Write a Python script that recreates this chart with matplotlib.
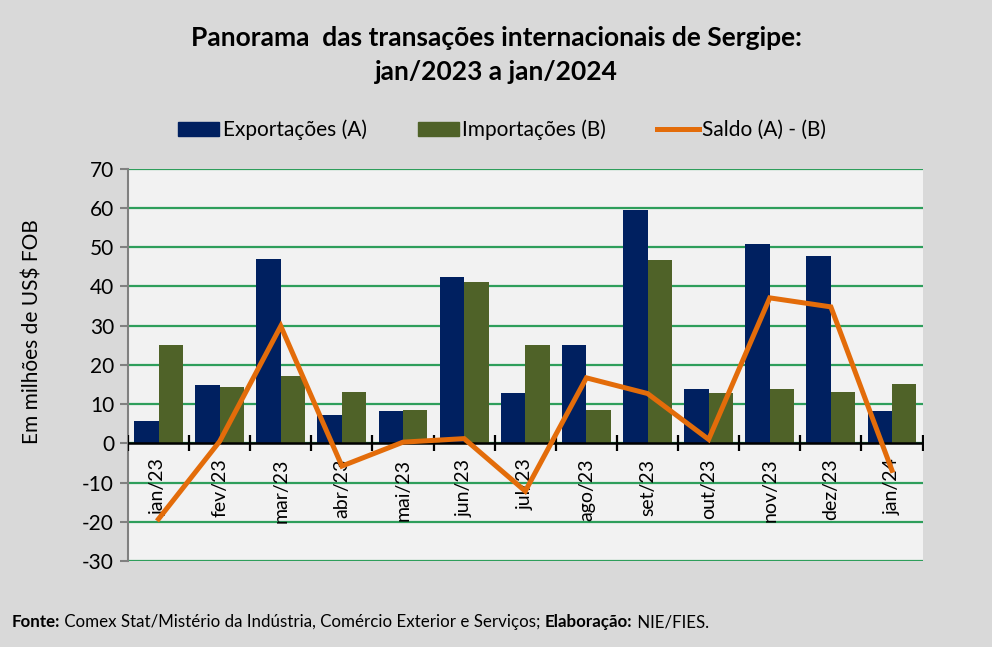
import matplotlib
matplotlib.use("Agg")
import matplotlib.pyplot as plt
import numpy as np
from matplotlib.patches import Patch
from matplotlib.lines import Line2D

plt.rcParams["font.family"] = ["Lato", "DejaVu Sans"]
plt.rcParams["axes.unicode_minus"] = False

# ── dados ─────────────────────────────────────────
meses = ["jan/23", "fev/23", "mar/23", "abr/23", "mai/23", "jun/23", "jul/23",
         "ago/23", "set/23", "out/23", "nov/23", "dez/23", "jan/24"]
exportacoes = [5.7, 14.8, 47.1, 7.2, 8.2, 42.3, 12.8, 25.2, 59.5, 13.8, 50.9, 47.8, 8.2]
importacoes = [25.0, 14.3, 17.1, 13.0, 8.5, 41.2, 25.0, 8.5, 46.8, 12.8, 13.8, 13.0, 15.1]
saldo = [-19.3, 0.5, 29.9, -5.8, 0.3, 1.2, -12.2, 16.7, 12.7, 1.0, 37.1, 34.8, -6.9]

C_EXP = "#002060"
C_IMP = "#4F6228"
C_SAL = "#E36C0A"
C_GRID = "#2E9E5B"
BG = "#D9D9D9"
PLOT_BG = "#F2F2F2"

fig = plt.figure(figsize=(9.92, 6.47), dpi=100)
fig.patch.set_facecolor(BG)
ax = fig.add_axes([0.129, 0.133, 0.801, 0.606])
ax.set_facecolor(PLOT_BG)

x = np.arange(len(meses))
w = 0.4
ax.bar(x - w / 2, exportacoes, w, color=C_EXP, zorder=3)
ax.bar(x + w / 2, importacoes, w, color=C_IMP, zorder=3)
ax.plot(x, saldo, color=C_SAL, lw=3.6, zorder=6, solid_joinstyle="miter")

ax.set_xlim(-0.5, len(meses) - 0.5)
ax.set_ylim(-30, 70)
ax.set_yticks(np.arange(-30, 71, 10))
ax.yaxis.grid(True, color=C_GRID, lw=1.6, zorder=1)
ax.set_axisbelow(True)

for s in ["top", "right", "bottom"]:
    ax.spines[s].set_visible(False)
ax.spines["left"].set_color("#808080")
ax.spines["left"].set_linewidth(1.5)
ax.tick_params(axis="y", colors="#808080", length=6, width=1.5, labelsize=15,
               labelcolor="black", pad=4)
ax.set_xticks([])

# linha do zero com marcas
ax.axhline(0, color="black", lw=1.8, zorder=4)
bounds = np.arange(-0.5, len(meses), 1.0)
ax.plot(bounds, np.zeros_like(bounds), ls="none", marker="|", markersize=12,
        markeredgewidth=1.6, color="black", zorder=4)

# rótulos dos meses dentro da área
for i, m in enumerate(meses):
    ax.annotate(m, (i, 0), xytext=(0, -11), textcoords="offset points",
                rotation=90, ha="center", va="top", fontsize=14, zorder=5)

ax.set_ylabel("Em milhões de US$ FOB", fontsize=15)
ax.yaxis.set_label_coords(-0.107, 0.584)

# título
fig.text(0.500, 0.942, "Panorama  das transações internacionais de Sergipe:",
         ha="center", va="center", fontsize=19, fontweight="bold")
fig.text(0.500, 0.889, "jan/2023 a jan/2024",
         ha="center", va="center", fontsize=19, fontweight="bold")

# legenda
handles = [Patch(color=C_EXP), Patch(color=C_IMP),
           Line2D([], [], color=C_SAL, lw=3.6)]
labels = ["Exportações (A)", "Importações (B)", "Saldo (A) - (B)"]
fig.legend(handles, labels, loc="center", bbox_to_anchor=(0.506, 0.799), ncol=3,
           frameon=False, fontsize=15, handlelength=2.0, handleheight=0.72,
           handletextpad=0.15, columnspacing=2.45)

# fonte
fig.canvas.draw()
r = fig.canvas.get_renderer()
partes = [("Fonte:", "bold"),
          (" Comex Stat/Mistério da Indústria, Comércio Exterior e Serviços; ", "normal"),
          ("Elaboração:", "bold"), (" NIE/FIES.", "normal")]
xp = 12
for txt, wt in partes:
    t = fig.text(xp / 992, 1 - 622 / 647, txt, fontsize=12.2, fontweight=wt,
                 ha="left", va="center")
    xp += t.get_window_extent(r).width

fig.savefig("out.png", dpi=100, facecolor=fig.get_facecolor())
